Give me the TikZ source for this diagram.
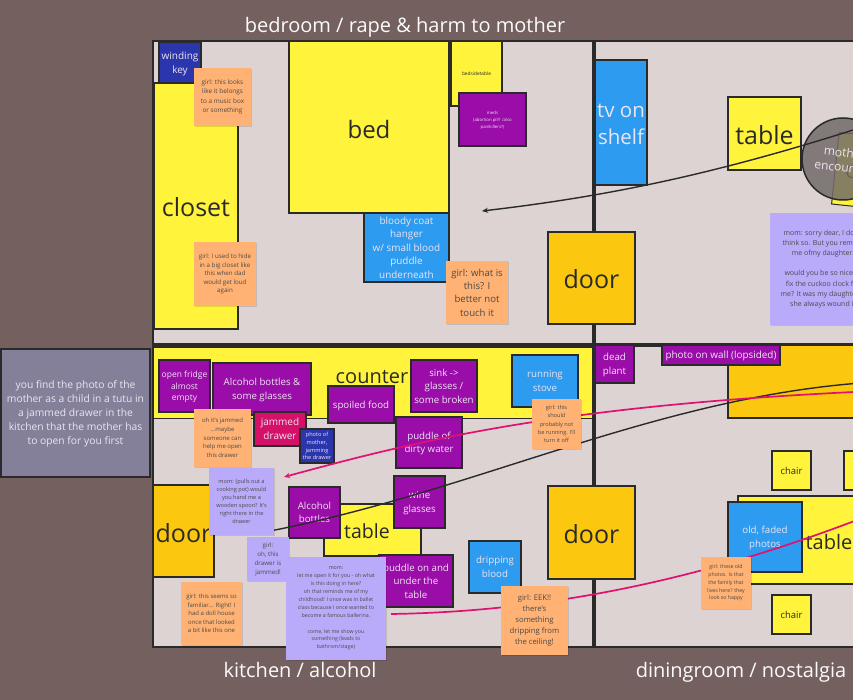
\documentclass[tikz,border=0pt]{standalone}
\usepackage{fontspec}
\setmainfont{Open Sans}
\usetikzlibrary{shadows,arrows.meta}
\definecolor{bgc}{HTML}{756060}
\definecolor{roomc}{HTML}{DDD3D3}
\definecolor{inkc}{HTML}{2A2A2A}
\definecolor{yelc}{HTML}{FFF33B}
\definecolor{goldc}{HTML}{FBC70F}
\definecolor{purc}{HTML}{9A0DA8}
\definecolor{bluc}{HTML}{2C9BF0}
\definecolor{navc}{HTML}{2B35AC}
\definecolor{pinkc}{HTML}{E0116F}
\definecolor{orac}{HTML}{FFB273}
\definecolor{lavc}{HTML}{B9ABFA}
\definecolor{slatec}{HTML}{85809A}
\definecolor{paletxt}{HTML}{EDE4F2}
\definecolor{ringc}{HTML}{736B6A}
\tikzset{
  x=1pt,y=-1pt,
  fz/.style 2 args={font=\fontsize{#1}{#2}\selectfont},
  area/.style={draw=inkc,line width=1.5pt,inner sep=0pt,outer sep=0pt,align=center,text=inkc,text depth=0pt},
  ybox/.style={area,fill=yelc},
  gbox/.style={area,fill=goldc},
  pbox/.style={area,fill=purc,text=paletxt},
  bbox/.style={area,fill=bluc,text=paletxt},
  nbox/.style={area,fill=navc,text=paletxt},
  rbox/.style={area,fill=pinkc!95!black,text=paletxt},
  sticky/.style={inner sep=0pt,outer sep=0pt,align=center,text=inkc!85!white,
    drop shadow={shadow xshift=1pt,shadow yshift=-1pt,opacity=.12,fill=black}},
  ostick/.style={sticky,fill=orac},
  lstick/.style={sticky,fill=lavc},
  title/.style={text=white!90!roomc,fz={20}{24}},
  wall/.style={draw=inkc,line width=3.5pt},
  thinwall/.style={draw=inkc,line width=2pt},
  darkline/.style={draw=inkc,line width=1.4pt},
  pinkline/.style={draw=pinkc,line width=1.7pt},
  tip/.style={-{Stealth[length=6pt,width=5pt]}},
}
\newcommand\areabox[7]{%
  \pgfmathsetmacro\boxw{#4-#2}\pgfmathsetmacro\boxh{#5-#3}%
  \node[#6,minimum width=\boxw pt,minimum height=\boxh pt] (#1) at ({(#2+#4)/2},{(#3+#5)/2}) {#7};}
\newcommand\lowered[2]{\raisebox{-#1pt}[\height][\depth]{#2}}
\begin{document}
\begin{tikzpicture}
\useasboundingbox (0,0) rectangle (853,700);
\clip (0,0) rectangle (853,700);
\fill[bgc] (0,0) rectangle (853,700);
% rooms
\fill[roomc] (153,41) rectangle (870,647);
\draw[thinwall] (153,41) rectangle (870,647);
\areabox{counter}{153}{347}{593}{418}{ybox,line width=1pt}{}
\draw[wall] (153,345) -- (870,345);
\draw[wall] (594,41) -- (594,647);
\node[fz={20}{24},text=inkc,inner sep=0pt] (counterlabel) at (372,377) {counter};
% bedroom
\areabox{windkey}{159}{42}{201}{83}{nbox,fz={10}{13.5}}{winding\\key}
\areabox{closet}{154}{83}{238}{329}{ybox,fz={25}{30}}{\lowered{1.5}{closet}}
\areabox{bed}{289}{41}{449}{213}{ybox,fz={24}{30}}{\lowered{2}{bed}}
\areabox{hanger}{364}{213}{449}{282}{bbox,fz={9.9}{13.5}}{bloody coat\\hanger\\w/ small blood\\puddle\\underneath}
\areabox{bedside}{451}{41}{502}{106}{ybox,fz={4.8}{6}}{bedsidetable}
\areabox{meds}{459}{93}{526}{146}{pbox,fz={4.3}{7}}{meds\\(abortion pill? /also\\painkillers?)}
\areabox{tvshelf}{595}{60}{647}{185}{bbox,fz={20.5}{27}}{\lowered{2}{tv on}\\\lowered{2}{shelf}}
\areabox{beddoor}{548}{232}{635}{324}{gbox,fz={25}{30}}{\lowered{1.5}{door}}
\areabox{bedtable}{728}{97}{801}{170}{ybox,fz={25}{30}}{\lowered{1.5}{table}}
\node[area,fill=yelc,line width=1pt,rotate=-6,minimum width=130pt,minimum height=72pt] (cuckoo) at (900,175) {};
\node[fz={18}{20},text=inkc,inner sep=0pt] (cuckooletter) at (851,172) {C};
\node[circle,draw=inkc,line width=1.5pt,fill=ringc,fill opacity=.85,text opacity=1,minimum size=82pt,inner sep=0pt,outer sep=0pt] (motherring) at (843,159) {};
\node[rotate=-6,align=center,inner sep=0pt,fz={12}{15},text=paletxt] (motherlabel) at (844,160) {mother\\encounter};
% kitchen
\areabox{fridge}{159}{360}{210}{412}{pbox,fz={8.5}{11.7}}{open fridge\\almost\\empty}
\areabox{alcohol}{213}{363}{311}{415}{pbox,fz={9.7}{13.5}}{Alcohol bottles \&\\some glasses}
\areabox{spoiled}{328}{386}{394}{423}{pbox,fz={9.7}{13.5}}{spoiled food}
\areabox{sink}{411}{360}{477}{412}{pbox,fz={9.7}{13.5}}{sink ->\\glasses /\\some broken}
\areabox{stove}{512}{355}{578}{407}{bbox,fz={9.7}{13.5}}{running\\stove}
\areabox{jammed}{254}{412}{306}{446}{rbox,fz={10}{14}}{jammed\\drawer}
\areabox{photomother}{300}{429}{334}{463}{nbox,fz={5.6}{7.8}}{photo of\\mother,\\jamming\\the drawer}
\areabox{puddlewater}{396}{417}{462}{468}{pbox,fz={9.7}{13.5}}{puddle of\\dirty water}
\areabox{kdoor}{153}{485}{214}{577}{gbox,fz={25}{30}}{\lowered{1.5}{door}}
\areabox{ktable}{324}{504}{421}{556}{ybox,fz={19.5}{22}}{\lowered{1.5}{table}\hspace{11pt}}
\areabox{wine}{394}{476}{445}{528}{pbox,fz={9.7}{13.5}}{wine\\glasses}
\areabox{alcohol2}{289}{487}{340}{538}{pbox,fz={9.7}{13.5}}{Alcohol\\bottles}
\areabox{puddletable}{379}{555}{453}{607}{pbox,fz={9.7}{13.5}}{puddle on and\\under the\\table}
\areabox{drip}{469}{541}{521}{593}{bbox,fz={9.7}{13.5}}{dripping\\blood}
\areabox{kdoor2}{548}{486}{635}{579}{gbox,fz={25}{30}}{\lowered{1.5}{door}}
% dining room
\areabox{ddoor}{728}{345}{900}{418}{gbox}{}
\areabox{deadplant}{595}{345}{634}{383}{pbox,fz={9.7}{13.5}}{dead\\plant}
\areabox{wallphoto}{662}{345}{780}{365}{pbox,fz={9.9}{12}}{photo on wall (lopsided)}
\areabox{chairA}{772}{451}{811}{490}{ybox,fz={9.5}{12}}{chair}
\areabox{chairB}{844}{451}{883}{490}{ybox,fz={9.5}{12}}{chair}
\areabox{chairC}{772}{595}{811}{634}{ybox,fz={9.5}{12}}{chair}
\areabox{dtable}{738}{496}{920}{584}{ybox,fz={20}{24}}{\lowered{2}{table}}
\areabox{oldphotos}{728}{502}{802}{572}{bbox,fz={9.7}{13.5}}{old, faded\\photos}
% connectors
\coordinate (darkAstart) at (875,123);
\coordinate (darkAend) at (482,211);
\coordinate (darkBstart) at (875,382);
\coordinate (darkBend) at (270,531);
\coordinate (pinkAstart) at (875,391);
\coordinate (pinkAend) at (284,477);
\coordinate (pinkBstart) at (875,513);
\coordinate (pinkBend) at (391,614);
\draw[darkline,tip] (darkAstart) .. controls (730,170) and (620,195) .. (darkAend);
\draw[darkline] (darkBstart) .. controls (660,395) and (480,490) .. (darkBend);
\draw[pinkline,tip] (pinkAstart) .. controls (560,405) and (420,440) .. (pinkAend);
\draw[pinkline] (pinkBstart) .. controls (680,590) and (520,612) .. (pinkBend);
% stickies
\areabox{gkey}{194}{68}{251}{126}{ostick,fz={6.4}{9.4}}{girl: this looks\\like it belongs\\to a music box\\or something}
\areabox{ghide}{194}{242}{256}{306}{ostick,fz={6.2}{8.4}}{girl: I used to hide\\in a big closet like\\this when dad\\would get loud\\again}
\areabox{gwhat}{446}{261}{508}{324}{ostick,fz={9.6}{13.3}}{girl: what is\\this? I\\better not\\touch it}
\areabox{momsorry}{770}{213}{876}{325}{lstick,fz={7}{10.2}}{mom: sorry dear, I don't\\think so. But you remind\\me ofmy daughter.\\[10.2pt]would you be so nice to\\fix the cuckoo clock for\\me? It was my daughter's,\\she always wound it}
\areabox{gjam}{194}{409}{251}{467}{ostick,fz={6}{8.7}}{oh it's jammed\\...maybe\\someone can\\help me open\\this drawer}
\areabox{gstove}{532}{399}{581}{449}{ostick,fz={5.6}{8.2}}{girl: this\\should\\probably not\\be running. I'll\\turn it off}
\areabox{mompot}{209}{468}{274}{535}{lstick,fz={5.6}{8}}{mom: (pulls out a\\cooking pot) would\\you hand me a\\wooden spoon? It's\\right there in the\\drawer}
\areabox{goh}{247}{537}{289}{581}{lstick,fz={6.2}{9}}{girl:\\oh, this\\drawer is\\jammed!}
\areabox{momopen}{286}{557}{386}{660}{lstick,fz={5.3}{7.9}}{mom:\\let me open it for you - oh what\\is this doing in here?\\oh that reminds me of my\\childhood! I once was in ballet\\class because I once wanted to\\become a famous ballerina.\\[7.9pt]come, let me show you\\something (leads to\\bathrom/stage)}
\areabox{gdoll}{181}{582}{242}{645}{ostick,fz={6}{8.4}}{girl: this seems so\\familiar... Right! I\\had a doll house\\once that looked\\a bit like this one}
\areabox{geek}{501}{586}{568}{655}{ostick,fz={7.7}{11.2}}{girl: EEK!!\\there's\\something\\dripping from\\the ceiling!}
\areabox{gphotos}{701}{557}{751}{609}{ostick,fz={5.2}{7.8}}{girl: these old\\photos. Is that\\the family that\\lives here? they\\look so happy}
% left note and titles
\areabox{leftnote}{1}{349}{150}{477}{area,fill=slatec,text=paletxt,fz={10.3}{14}}{you find the photo of the\\mother as a child in a tutu in\\a jammed drawer in the\\kitchen that the mother has\\to open for you first}
\node[title,inner sep=0pt] (titlebed) at (405,27) {bedroom / rape \& harm to mother};
\node[title,inner sep=0pt] (titlekit) at (300,670) {kitchen / alcohol};
\node[title,inner sep=0pt] (titledin) at (741,672) {diningroom / nostalgia};
\end{tikzpicture}
\end{document}
